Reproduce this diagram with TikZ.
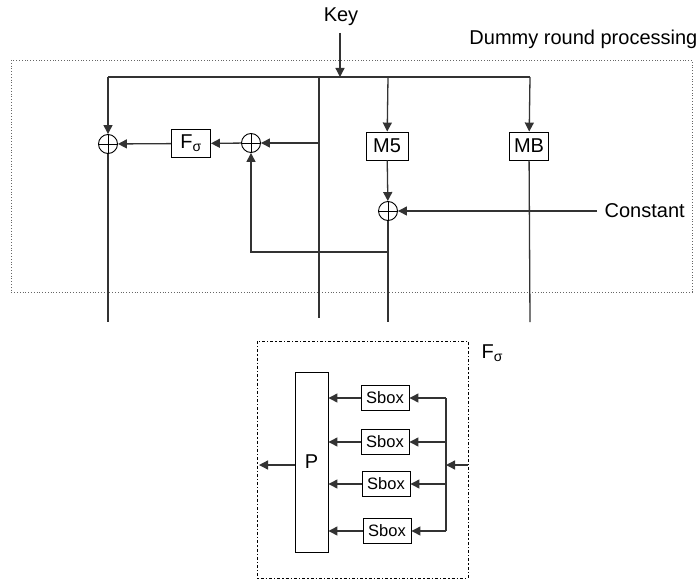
\documentclass[tikz,border=0pt]{standalone}
\usepackage{fontspec}
\setmainfont{Liberation Sans}
\usetikzlibrary{arrows.meta}
\begin{document}
\begin{tikzpicture}[x=1pt,y=-1pt,
  line width=1.3pt,
  wire/.style={draw=black!80},
  arr/.style={wire,-{Triangle[length=9pt,width=9pt]}},
  box/.style={draw=black,fill=white,inner sep=0pt,line width=0.9pt,font=\fontsize{20}{23}\selectfont},
  sbox/.style={box,minimum width=48pt,minimum height=25pt,font=\fontsize{16.5}{19}\selectfont},
  xor/.style={circle,draw=black,fill=white,inner sep=0pt,line width=0.9pt,minimum size=19pt,
    path picture={\draw[black,line width=0.9pt] (path picture bounding box.north) -- (path picture bounding box.south)
      (path picture bounding box.west) -- (path picture bounding box.east);}},
  lbl/.style={inner sep=0pt,font=\fontsize{20}{23}\selectfont}]
\useasboundingbox (0,0) rectangle (700,583);

% frame of the dummy round
\draw[black!60,dotted,line width=0.8pt] (11,60) rectangle (692,292);
\node[lbl,anchor=east] (dlabel) at (698,39) {Dummy round processing};

% key distribution
\node[lbl] (key) at (341,17) {Key};
\coordinate (keyst) at (340,33);
\coordinate (keyin) at (340,77);
\coordinate (tl) at (108,77);
\coordinate (tr) at (530,77);
\coordinate (c2t) at (319,77);
\coordinate (m5t) at (388,77);
\draw[wire] (tl) -- (tr);
\draw[arr] (keyst) -- (keyin);

% left branch
\node[xor] (x1) at (108,144) {};
\node[box,minimum width=39pt,minimum height=28pt] (fs) at (191,143.5) {F\textsubscript{σ}};
\node[xor] (x2) at (251,143) {};
\coordinate (b1) at (108,322);
\draw[arr] (tl) -- (x1);
\draw[wire] (x1) -- (b1);
\draw[arr] (x2) -- (fs);
\draw[arr] (fs) -- (x1);

% middle branch
\coordinate (c2b) at (319,318);
\coordinate (tap) at (319,143);
\draw[wire] (c2t) -- (c2b);
\draw[arr] (tap) -- (x2);

% M5 branch with constant
\node[box,minimum width=42pt,minimum height=28pt] (m5) at (387,146) {M5};
\node[xor] (x3) at (388,211) {};
\node[lbl,anchor=west] (const) at (604,211) {Constant};
\coordinate (b3) at (388,322);
\coordinate (tap2) at (388,252);
\draw[arr] (m5t) -- (m5);
\draw[arr] (m5) -- (x3);
\draw[wire] (x3) -- (b3);
\draw[arr] ([xshift=-7pt]const.west) -- (x3);
\draw[arr] (tap2) -| (x2);

% MB branch
\node[box,minimum width=39pt,minimum height=28pt] (mb) at (529,146) {MB};
\coordinate (b4) at (530,322);
\draw[arr] (tr) -- (mb);
\draw[wire] (mb) -- (b4);

% F_sigma detail
\draw[black,dash dot,line width=0.9pt] (257,341) rectangle (468,578);
\node[lbl,anchor=west] (fslabel) at (481,353) {F\textsubscript{σ}};
\node[box,minimum width=33pt,minimum height=180pt] (p) at (311.5,462) {P};
\node[sbox] (s1) at (385,398) {Sbox};
\node[sbox] (s2) at (385,442) {Sbox};
\node[sbox] (s3) at (386,484) {Sbox};
\node[sbox] (s4) at (387,531) {Sbox};
\coordinate (bt) at (446,398);
\coordinate (bb) at (446,531);
\coordinate (bin) at (446,465);
\coordinate (fin) at (468,465);
\coordinate (fout) at (259,465);
\draw[wire] (bt) -- (bb);
\draw[arr] (fin) -- (bin);
\draw[arr] (p.west |- fout) -- (fout);
\foreach \s in {s1,s2,s3,s4}{
  \draw[arr] (\s.west) -- (\s.west -| p.east);
  \draw[arr] (\s.east -| bt) -- (\s.east);
}
\end{tikzpicture}
\end{document}
